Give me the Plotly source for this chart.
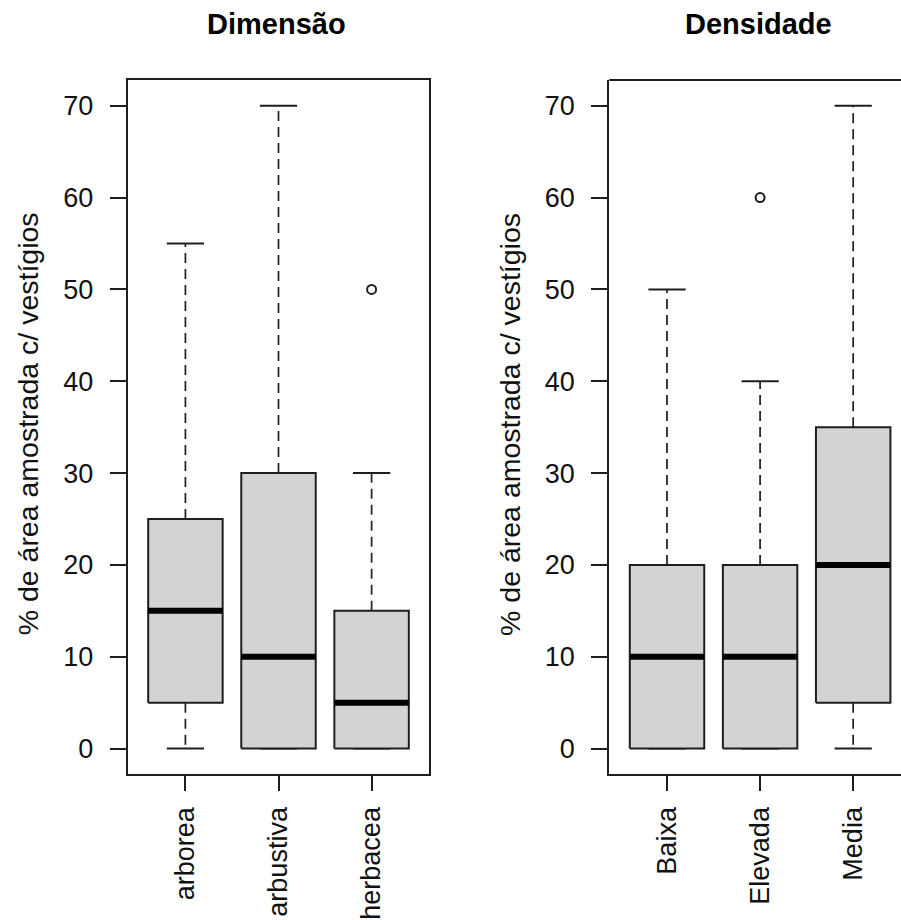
import plotly.graph_objects as go

# ---- data ----
dim_categories = ["arborea", "arbustiva", "herbacea"]
dim_min = [0, 0, 0]
dim_q1 = [5, 0, 0]
dim_median = [15, 10, 5]
dim_q3 = [25, 30, 15]
dim_max = [55, 70, 30]
dim_outliers = [[], [], [50]]

den_categories = ["Baixa", "Elevada", "Media"]
den_min = [0, 0, 0]
den_q1 = [0, 0, 5]
den_median = [10, 10, 20]
den_q3 = [20, 20, 35]
den_max = [50, 40, 70]
den_outliers = [[], [60], []]

y_ticks = [0, 10, 20, 30, 40, 50, 60, 70]
titles = ["Dimensão", "Densidade"]
ylab = "% de área amostrada c/ vestígios"

# ---- style ----
W, H = 901, 920
FONT = "Liberation Sans, Arial, sans-serif"
LINE = "#1e1e1e"
FILL = "#d3d3d3"
BOXW = 0.4     # half width
CAPW = 0.2     # half width of staple

fig = go.Figure()


def add_panel(xa, ya, cats, mn, q1, med, q3, mx, outl):
    for i, c in enumerate(cats):
        x = i + 1
        # whiskers (dashed)
        fig.add_trace(go.Scatter(
            x=[x, x, None, x, x], y=[q3[i], mx[i], None, q1[i], mn[i]],
            mode="lines", line=dict(color=LINE, width=1.7, dash="10px,6px"),
            xaxis=xa, yaxis=ya, hoverinfo="skip", showlegend=False))
        # staples
        fig.add_trace(go.Scatter(
            x=[x - CAPW, x + CAPW, None, x - CAPW, x + CAPW],
            y=[mx[i], mx[i], None, mn[i], mn[i]],
            mode="lines", line=dict(color=LINE, width=2),
            xaxis=xa, yaxis=ya, hoverinfo="skip", showlegend=False))
        # box
        fig.add_trace(go.Scatter(
            x=[x - BOXW, x + BOXW, x + BOXW, x - BOXW, x - BOXW],
            y=[q1[i], q1[i], q3[i], q3[i], q1[i]],
            mode="lines", fill="toself", fillcolor=FILL,
            line=dict(color=LINE, width=2),
            xaxis=xa, yaxis=ya, hoverinfo="skip", showlegend=False))
        # median
        fig.add_trace(go.Scatter(
            x=[x - BOXW, x + BOXW], y=[med[i], med[i]],
            mode="lines", line=dict(color="#000000", width=6),
            xaxis=xa, yaxis=ya, hoverinfo="skip", showlegend=False))
        # outliers
        if outl[i]:
            fig.add_trace(go.Scatter(
                x=[x] * len(outl[i]), y=outl[i], mode="markers",
                marker=dict(symbol="circle-open", size=9,
                            line=dict(color=LINE, width=2), color=LINE),
                xaxis=xa, yaxis=ya, hoverinfo="skip", showlegend=False))


add_panel("x", "y", dim_categories, dim_min, dim_q1, dim_median, dim_q3, dim_max, dim_outliers)
add_panel("x2", "y2", den_categories, den_min, den_q1, den_median, den_q3, den_max, den_outliers)

# plot area geometry in pixels
L1, R1 = 127.7, 429.3
L2 = 609.3
TOP, BOT = 80, 774.3
unit = (R1 - L1) / 3.24
x_lo = 0.38
x2_hi = x_lo + (W - L2) / unit

ydom = [(H - BOT) / H, (H - TOP) / H]
tickfont = dict(family=FONT, size=27, color="#111111")

common_y = dict(range=[-2.8, 72.8], tickvals=y_ticks, ticks="outside", ticklen=16,
                tickwidth=2, tickcolor=LINE, showline=True, linecolor=LINE, linewidth=2,
                showgrid=False, zeroline=False, tickfont=tickfont, automargin=False,
                ticklabelstandoff=11, domain=ydom)
common_x = dict(tickvals=[1, 2, 3], ticks="outside", ticklen=15, tickwidth=2,
                tickcolor=LINE, showline=True, linecolor=LINE, linewidth=2,
                showgrid=False, zeroline=False, tickfont=tickfont, tickangle=-90,
                automargin=False, ticklabelstandoff=5)

fig.update_layout(
    width=W, height=H, margin=dict(l=0, r=0, t=0, b=0),
    paper_bgcolor="white", plot_bgcolor="white", showlegend=False,
    xaxis=dict(common_x, range=[x_lo, 3.62], ticktext=dim_categories,
               domain=[L1 / W, R1 / W], mirror=True, anchor="y"),
    yaxis=dict(common_y, mirror=True, anchor="x"),
    xaxis2=dict(common_x, range=[x_lo, x2_hi], ticktext=den_categories,
                domain=[L2 / W, 1.0], anchor="y2"),
    yaxis2=dict(common_y, anchor="x2"),
)

# top frame line for right panel (right side is beyond the page)
fig.add_shape(type="line", xref="x2 domain", yref="y2 domain", x0=0, x1=1, y0=1, y1=1,
              line=dict(color=LINE, width=2))

# titles and y labels
for cx, t in [((L1 + R1) / 2 - 2, titles[0]), (L2 + (R1 - L1) / 2 - 2, titles[1])]:
    fig.add_annotation(text="<b>%s</b>" % t, x=cx / W, y=1 - 24 / H, xref="paper", yref="paper",
                       xanchor="center", yanchor="middle", showarrow=False,
                       font=dict(family=FONT, size=29, color="#000000"))
for cx in [L1 - 99.5, L2 - 99.5]:
    fig.add_annotation(text=ylab, x=cx / W, y=1 - ((TOP + BOT) / 2 - 3) / H, xref="paper",
                       yref="paper", xanchor="center", yanchor="middle", textangle=-90,
                       showarrow=False, font=dict(family=FONT, size=28.5, color="#111111"))

fig.write_html("out.html")
